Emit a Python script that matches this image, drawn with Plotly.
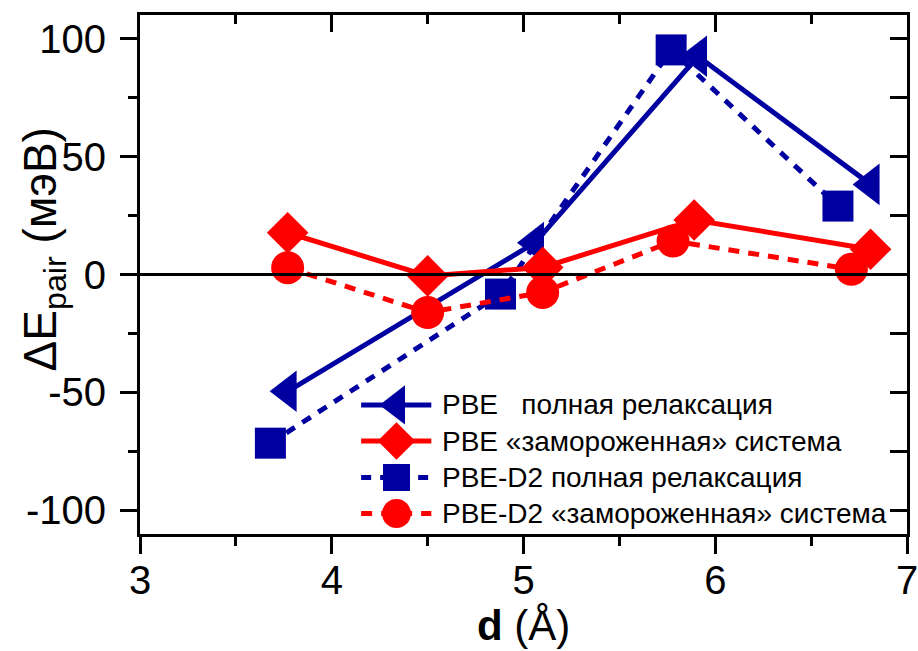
import plotly.graph_objects as go

# Pair interaction energy vs. distance, four calculation schemes
pbe_full_d = [3.77, 5.06, 5.91, 6.81]
pbe_full_e = [-49.5, 13.5, 92.5, 38.2]

pbe_frozen_d = [3.77, 4.50, 5.10, 5.89, 6.81]
pbe_frozen_e = [17.7, -0.6, 3.0, 23.1, 10.7]

d2_full_d = [3.68, 4.88, 5.77, 6.64]
d2_full_e = [-71.5, -8.3, 95.2, 29.0]

d2_frozen_d = [3.77, 4.50, 5.10, 5.78, 6.71]
d2_frozen_e = [2.9, -16.1, -7.6, 14.2, 2.2]

x_ticks = [3, 4, 5, 6, 7]
x_ticktext = ["3", "4", "5", "6", "7"]
y_ticks = [-100, -50, 0, 50, 100]
y_ticktext = ["-100", "-50", "0", "50", "100"]

method_labels = ["PBE", "PBE", "PBE-D2", "PBE-D2"]
scheme_labels = ["\u00a0\u00a0 полная релаксация", " «замороженная» система",
                 " полная релаксация", " «замороженная» система"]

BLUE = "#0000A0"
RED = "#FF0000"
FONT = "Liberation Sans, Arial, sans-serif"

series = [
    # (x, y, colour, dash, symbol, marker size, legend marker size)
    (d2_full_d, d2_full_e, BLUE, "10px,9px", "square", 31, 27),
    (pbe_full_d, pbe_full_e, BLUE, "solid", "triangle-left", 36, 34),
    (d2_frozen_d, d2_frozen_e, RED, "11px,9px", "circle", 33, 29),
    (pbe_frozen_d, pbe_frozen_e, RED, "solid", "diamond", 32, 29),
]

fig = go.Figure()
for x, y, col, dash, sym, ms, _ in series:
    fig.add_trace(go.Scatter(
        x=x, y=y, mode="lines+markers", showlegend=False,
        line=dict(color=col, width=5, dash=dash),
        marker=dict(symbol=sym, size=ms, color=col, opacity=1, line=dict(width=0)),
    ))

# Hand-drawn legend on a hidden unit-square axis pair
legend_order = [1, 3, 0, 2]  # PBE full, PBE frozen, D2 full, D2 frozen
row_y = [0.2486, 0.1792, 0.1089, 0.0395]
key_x = [0.2883, 0.3344, 0.3798]
text_x = 0.3905
for row, idx in enumerate(legend_order):
    x, y, col, dash, sym, ms, lms = series[idx]
    fig.add_trace(go.Scatter(
        x=key_x, y=[row_y[row]] * 3, mode="lines+markers", showlegend=False,
        xaxis="x3", yaxis="y3",
        line=dict(color=col, width=5, dash=dash),
        marker=dict(symbol=sym, size=[0, lms, 0], color=col, opacity=1, line=dict(width=0)),
    ))
    fig.add_annotation(
        xref="x3", yref="y3", x=text_x, y=row_y[row], xanchor="left", yanchor="middle",
        showarrow=False, align="left",
        text=method_labels[row] + scheme_labels[row],
        font=dict(family=FONT, size=28, color="black"),
    )

# Zero reference line above the markers
fig.add_shape(type="line", xref="paper", x0=0, x1=1, yref="y", y0=0, y1=0,
              line=dict(color="black", width=3), layer="above")

line_common = dict(
    showline=True, linecolor="black", linewidth=3, showgrid=False, zeroline=False,
    tickcolor="black", tickwidth=3, automargin=False,
)
label_font = dict(family=FONT, size=40, color="black")

fig.update_layout(
    width=918, height=651,
    margin=dict(l=140, r=11, t=15, b=117),
    paper_bgcolor="white", plot_bgcolor="white",
    showlegend=False,
    xaxis=dict(range=[3, 7], tickvals=x_ticks, ticktext=x_ticktext,
               ticks="outside", ticklen=17, tickfont=label_font,
               ticklabeloverflow="allow", ticklabelstandoff=-8,
               minor=dict(dtick=0.5, tick0=3, ticks="outside", ticklen=9,
                          tickwidth=3, tickcolor="black"),
               **line_common),
    yaxis=dict(range=[-110, 110], tickvals=y_ticks, ticktext=y_ticktext,
               ticks="outside", ticklen=17, tickfont=label_font,
               ticklabelstandoff=6,
               minor=dict(dtick=25, tick0=0, ticks="outside", ticklen=9,
                          tickwidth=3, tickcolor="black"),
               **line_common),
    xaxis2=dict(overlaying="x", side="top", range=[3, 7], tickvals=x_ticks,
                ticks="inside", ticklen=17, showticklabels=False,
                minor=dict(dtick=0.5, tick0=3, ticks="inside", ticklen=9,
                           tickwidth=3, tickcolor="black"),
                **line_common),
    yaxis2=dict(overlaying="y", side="right", range=[-110, 110], tickvals=y_ticks,
                ticks="inside", ticklen=17, showticklabels=False,
                minor=dict(dtick=25, tick0=0, ticks="inside", ticklen=17,
                           tickwidth=3, tickcolor="black"),
                **line_common),
    xaxis3=dict(overlaying="x", range=[0, 1], visible=False, automargin=False),
    yaxis3=dict(overlaying="y", range=[0, 1], visible=False, automargin=False),
)

# Empty trace so the mirrored tick axes are drawn
fig.add_trace(go.Scatter(x=[None], y=[None], xaxis="x2", yaxis="y2", showlegend=False))

fig.add_annotation(
    xref="paper", yref="paper", x=-0.126, y=0.549, xanchor="center", yanchor="middle",
    textangle=-90, showarrow=False,
    text="ΔE<sub>pair</sub> (мэВ)",
    font=dict(family=FONT, size=46, color="black"),
)
fig.add_annotation(
    xref="paper", yref="paper", x=0.5, y=-0.177, xanchor="center", yanchor="middle",
    showarrow=False,
    text="<b>d</b> (Å)",
    font=dict(family=FONT, size=42, color="black"),
)

fig.write_html("out.html")
